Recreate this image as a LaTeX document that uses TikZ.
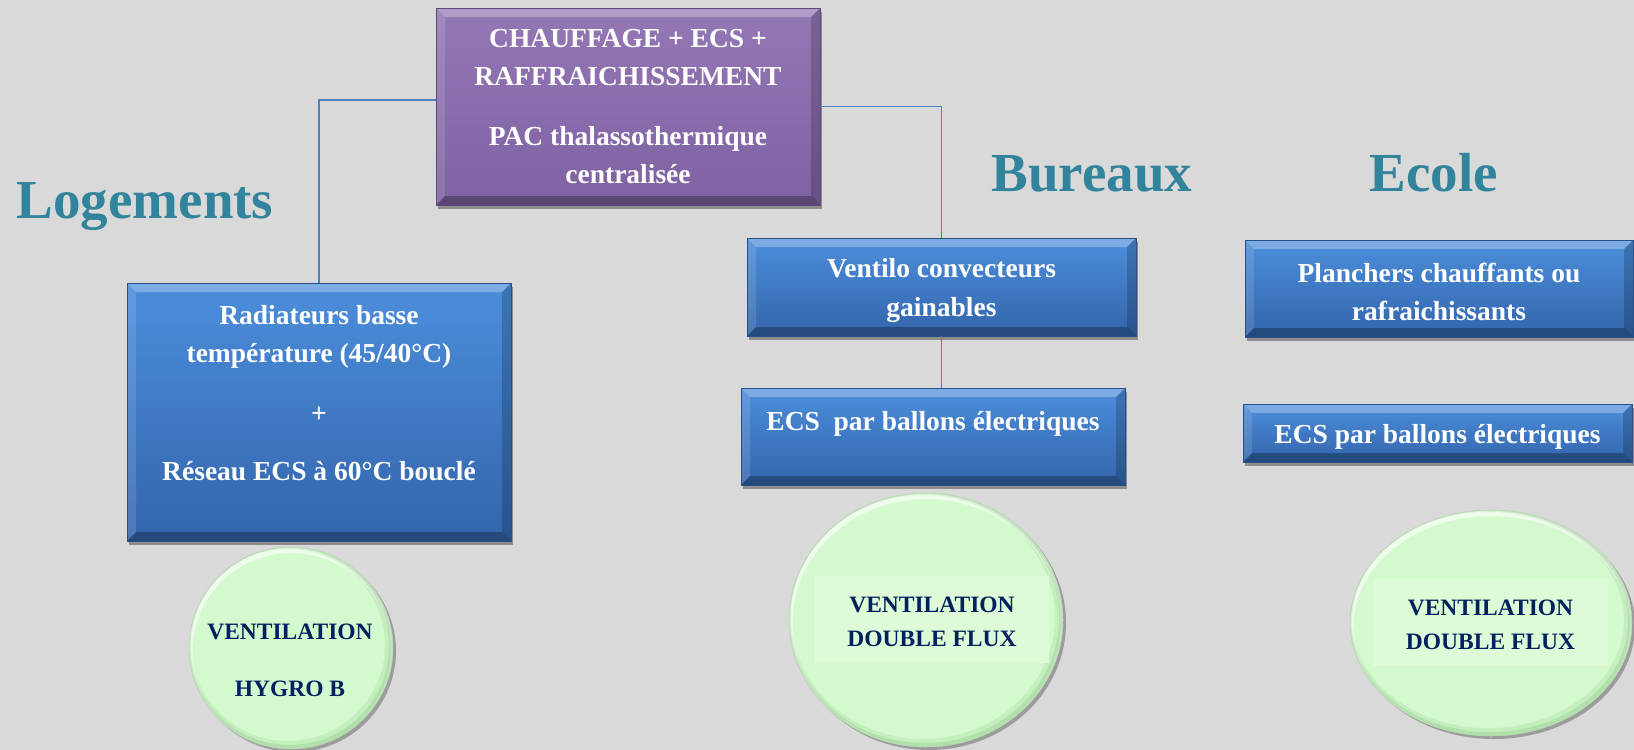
\documentclass[tikz,border=0pt]{standalone}
\usepackage{fontspec}
\setmainfont{Liberation Serif}
\usetikzlibrary{shapes.geometric,shadows}

\definecolor{bgGrey}{RGB}{217,217,217}
\definecolor{titleTeal}{RGB}{49,132,155}
\definecolor{linkBlue}{RGB}{79,129,189}
\definecolor{boxBlueTop}{RGB}{76,142,219}
\definecolor{boxBlueBot}{RGB}{51,101,172}
\definecolor{boxBlueEdge}{RGB}{38,78,135}
\definecolor{boxPurpleTop}{RGB}{148,120,182}
\definecolor{boxPurpleBot}{RGB}{126,97,161}
\definecolor{boxPurpleEdge}{RGB}{95,72,125}
\definecolor{btnGreen}{RGB}{213,249,207}
\definecolor{btnPanel}{RGB}{220,251,214}
\definecolor{btnEdge}{RGB}{182,212,176}
\definecolor{navyText}{RGB}{0,32,96}

% extra height on a first line, to lower the text block slightly
\newcommand{\lowerstrut}{\rule{0pt}{26pt}}

\tikzset{
  % bevelled rectangular box
  bevelbox/.style={
    rectangle, inner sep=0pt, align=center, text=white,
    font=\fontsize{27.5}{38.5}\selectfont\bfseries,
    drop shadow={shadow xshift=2pt, shadow yshift=-4pt, opacity=0.35, fill=black},
    path picture={
      \fill[white,opacity=0.28] (path picture bounding box.north west) -- (path picture bounding box.north east)
        -- ([shift={(-9pt,-9pt)}]path picture bounding box.north east) -- ([shift={(9pt,-9pt)}]path picture bounding box.north west) -- cycle;
      \fill[white,opacity=0.12] (path picture bounding box.north west) -- ([shift={(9pt,-9pt)}]path picture bounding box.north west)
        -- ([shift={(9pt,9pt)}]path picture bounding box.south west) -- (path picture bounding box.south west) -- cycle;
      \fill[black,opacity=0.28] (path picture bounding box.south west) -- (path picture bounding box.south east)
        -- ([shift={(-9pt,9pt)}]path picture bounding box.south east) -- ([shift={(9pt,9pt)}]path picture bounding box.south west) -- cycle;
      \fill[black,opacity=0.18] (path picture bounding box.north east) -- (path picture bounding box.south east)
        -- ([shift={(-9pt,9pt)}]path picture bounding box.south east) -- ([shift={(-9pt,-9pt)}]path picture bounding box.north east) -- cycle;
    }},
  bluebox/.style={bevelbox, top color=boxBlueTop, bottom color=boxBlueBot, draw=boxBlueEdge, line width=0.6pt},
  purplebox/.style={bevelbox, top color=boxPurpleTop, bottom color=boxPurpleBot, draw=boxPurpleEdge, line width=0.6pt},
  % round green button, #1 = x radius, #2 = y radius
  greenbtn/.style 2 args={
    ellipse, inner sep=0pt, minimum width=2*#1, minimum height=2*#2,
    fill=btnGreen, draw=btnEdge, line width=0.5pt,
    drop shadow={shadow xshift=3pt, shadow yshift=-3pt, opacity=0.28, fill=black},
    path picture={
      \draw[white,line width=6pt,opacity=0.6] ([shift={(0.5pt,-3pt)}]path picture bounding box.center) ellipse [x radius=#1, y radius=#2];
      \draw[black!55!green,line width=10pt,opacity=0.08] ([shift={(-3pt,3pt)}]path picture bounding box.center) ellipse [x radius=#1, y radius=#2];
      \draw[black!55!green,line width=5pt,opacity=0.10] ([shift={(-1.5pt,1.5pt)}]path picture bounding box.center) ellipse [x radius=#1, y radius=#2];
    }},
  btntext/.style={align=center, text=navyText, inner sep=0pt,
    font=\fontsize{23.5}{34}\selectfont\bfseries},
  panel/.style={rectangle, fill=btnPanel, inner sep=0pt},
  heading/.style={text=titleTeal, font=\fontsize{55}{60}\selectfont\bfseries, inner sep=0pt, anchor=base},
  link/.style={draw=linkBlue, line width=1.7pt}
}

\begin{document}
\begin{tikzpicture}[x=1pt, y=-1pt]
  \useasboundingbox (0,0) rectangle (1634,750);
  \fill[bgGrey] (0,0) rectangle (1634,750);

  % section headings
  \node[heading] (hLog) at (145,218) {Logements};
  \node[heading] (hBur) at (1092,191) {Bureaux};
  \node[heading] (hEco) at (1434,191) {Ecole};

  % central heat pump
  \node[purplebox, minimum width=384, minimum height=197] (pac) at (628,106.5)
    {CHAUFFAGE + ECS +\\RAFFRAICHISSEMENT\\[21pt]PAC thalassothermique\\centralisée};

  % housing
  \node[bluebox, minimum width=384, minimum height=258] (rad) at (319,412)
    {Radiateurs basse\\température (45/40°C)\\[21pt]+\\[20pt]Réseau ECS à 60°C bouclé\\\mbox{}};

  % offices
  \node[bluebox, minimum width=389, minimum height=98] (vent) at (941.5,287)
    {\lowerstrut Ventilo convecteurs\\gainables};
  \node[bluebox, minimum width=384, minimum height=97] (ecsb) at (933,436.5)
    {\lowerstrut ECS\ \ par ballons électriques\\\mbox{}};

  % school
  \node[bluebox, minimum width=388, minimum height=97] (planch) at (1439,288.5)
    {\lowerstrut Planchers chauffants ou\\rafraichissants};
  \node[bluebox, minimum width=389, minimum height=58] (ecse) at (1437.5,433)
    {\lowerstrut ECS par ballons électriques};

  % connectors
  \draw[link] ([yshift=6.5pt]pac.west) -| (rad.north);
  \draw[link] (pac.east) -| (vent.north);
  \draw[link] (vent.south) -- (vent.south |- ecsb.north);

  % ventilation buttons
  \node[greenbtn={102pt}{101pt}] (vLog) at (291,648) {};
  \node[btntext] (vLogTxt) at (290,660) {VENTILATION\\[23pt]HYGRO B};

  \node[greenbtn={137pt}{127pt}] (vBur) at (926,620) {};
  \node[panel, minimum width=234, minimum height=87] (pBur) at (932,619.5) {};
  \node[btntext] (vBurTxt) at (932,622) {VENTILATION\\DOUBLE FLUX};

  \node[greenbtn={141pt}{113pt}] (vEco) at (1491,623) {};
  \node[panel, minimum width=235, minimum height=87] (pEco) at (1490.5,622.5) {};
  \node[btntext] (vEcoTxt) at (1490.5,624.5) {VENTILATION\\DOUBLE FLUX};
\end{tikzpicture}
\end{document}
